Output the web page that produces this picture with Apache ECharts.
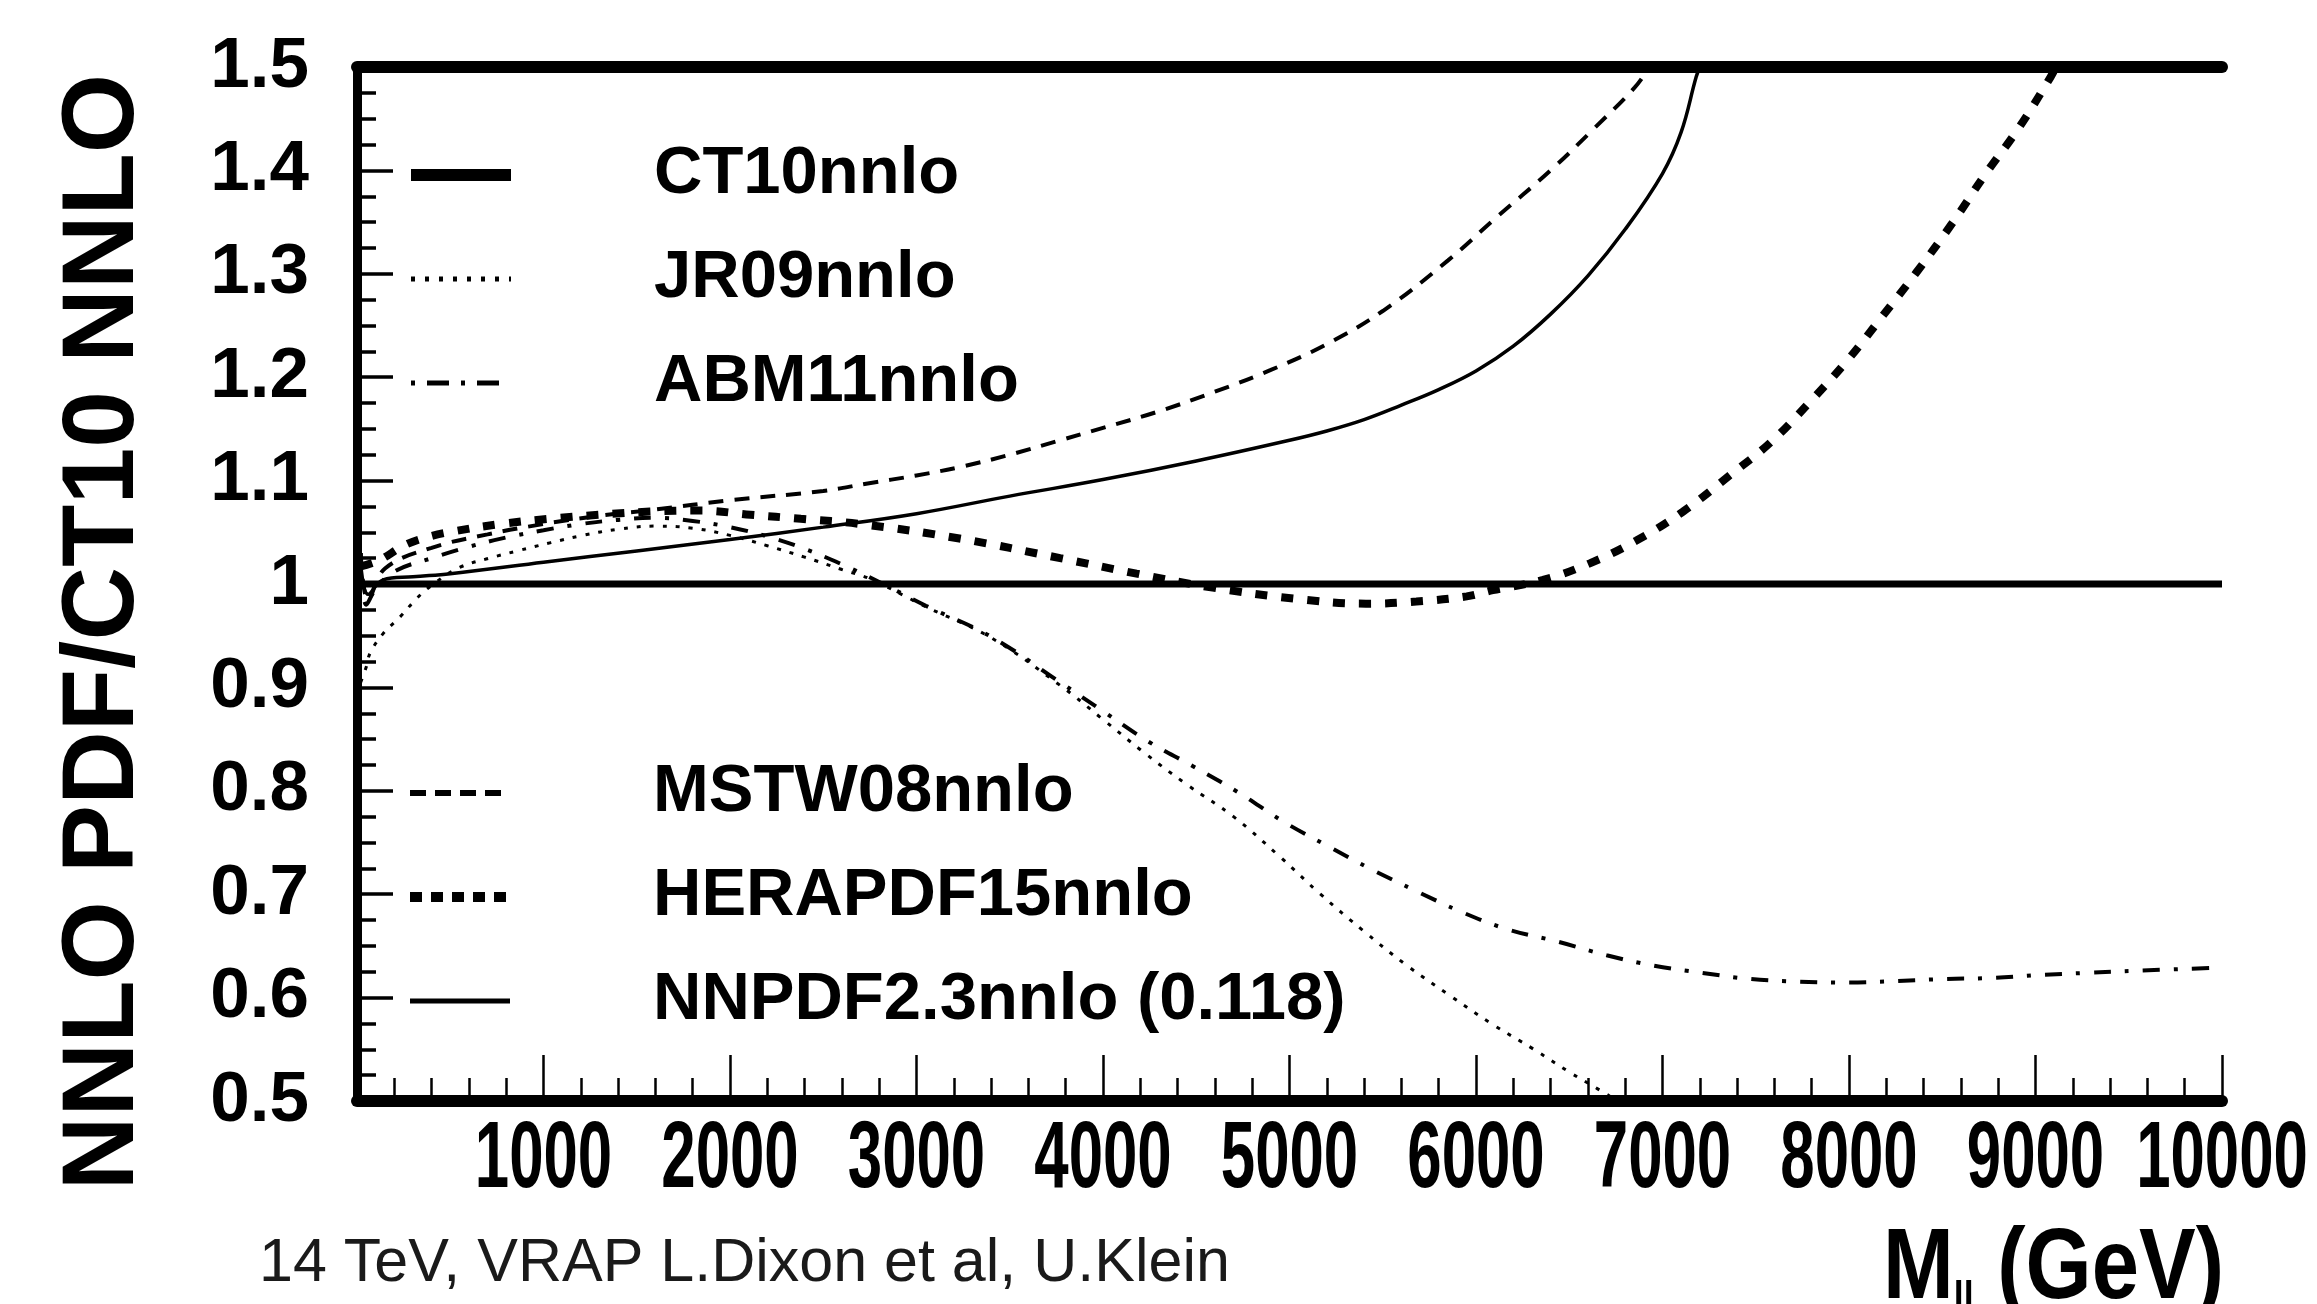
<!DOCTYPE html>
<html>
<head>
<meta charset="utf-8">
<title>NNLO PDF / CT10 NNLO</title>
<script src="https://cdn.jsdelivr.net/npm/echarts@6/dist/echarts.min.js"></script>
<style>
  html, body { margin: 0; padding: 0; background: #fff; }
  #chart { width: 2317px; height: 1304px; }
</style>
</head>
<body>
<div id="chart"></div>
<script>
// ratio curves, [M_ll in GeV, ratio to CT10]
const ct10 = [[0, 1], [10000, 1]];
const jr09 = [[20, 0.905], [50, 0.92], [70, 0.933], [140, 0.952], [230, 0.968], [320, 0.986], [410, 1.0], [550, 1.016], [710, 1.025], [860, 1.032], [1040, 1.04], [1210, 1.047], [1400, 1.053], [1600, 1.056], [1800, 1.054], [2000, 1.047], [2200, 1.037], [2400, 1.026], [2600, 1.014], [2750, 1.005], [3050, 0.978], [3400, 0.948], [3770, 0.902], [4000, 0.869], [4220, 0.837], [4450, 0.806], [4700, 0.775], [4950, 0.736], [5160, 0.701], [5400, 0.664], [5630, 0.631], [5860, 0.602], [6090, 0.574], [6310, 0.55], [6500, 0.528], [6650, 0.512], [6760, 0.5]];
const abm11 = [[20, 1.03], [50, 0.98], [100, 0.995], [200, 1.012], [400, 1.025], [600, 1.036], [800, 1.045], [1000, 1.052], [1200, 1.058], [1400, 1.062], [1600, 1.064], [1800, 1.061], [2000, 1.055], [2200, 1.046], [2400, 1.034], [2600, 1.019], [2800, 1.002], [3050, 0.979], [3400, 0.949], [3770, 0.905], [4000, 0.877], [4240, 0.848], [4480, 0.824], [4730, 0.798], [4960, 0.771], [5200, 0.747], [5440, 0.724], [5680, 0.703], [5920, 0.683], [6170, 0.666], [6440, 0.654], [6700, 0.641], [6950, 0.631], [7210, 0.624], [7470, 0.618], [7730, 0.6155], [7990, 0.6146], [8250, 0.616], [8510, 0.618], [8770, 0.619], [9030, 0.622], [9290, 0.624], [9540, 0.626], [10000, 0.629]];
const mstw08 = [[20, 1.03], [60, 0.985], [150, 1.015], [400, 1.035], [700, 1.048], [1000, 1.058], [1300, 1.066], [1600, 1.072], [2000, 1.081], [2500, 1.09], [2730, 1.097], [3000, 1.105], [3230, 1.113], [3500, 1.125], [3770, 1.139], [4000, 1.151], [4300, 1.167], [4600, 1.186], [4900, 1.207], [5200, 1.232], [5500, 1.264], [5850, 1.313], [6100, 1.353], [6400, 1.4], [6630, 1.44], [6850, 1.48], [6930, 1.5]];
const herapdf15 = [[20, 1.017], [120, 1.023], [250, 1.037], [370, 1.045], [520, 1.051], [770, 1.058], [1030, 1.063], [1300, 1.067], [1570, 1.07], [1840, 1.071], [2110, 1.067], [2380, 1.063], [2700, 1.058], [3230, 1.044], [3770, 1.025], [4180, 1.01], [4570, 0.997], [5020, 0.986], [5410, 0.981], [5680, 0.983], [5950, 0.988], [6090, 0.994], [6360, 1.004], [6610, 1.02], [6860, 1.042], [7110, 1.07], [7360, 1.105], [7580, 1.137], [7780, 1.174], [7990, 1.216], [8175, 1.258], [8360, 1.301], [8550, 1.348], [8730, 1.396], [8910, 1.441], [9080, 1.49], [9110, 1.5]];
const nnpdf23 = [[20, 1.02], [60, 0.99], [140, 1.004], [300, 1.007], [500, 1.01], [1000, 1.021], [1500, 1.032], [2000, 1.043], [2500, 1.055], [3000, 1.068], [3500, 1.085], [4000, 1.101], [4500, 1.119], [5000, 1.139], [5200, 1.148], [5400, 1.159], [5600, 1.173], [5800, 1.188], [6000, 1.206], [6200, 1.23], [6400, 1.261], [6600, 1.298], [6800, 1.343], [7000, 1.397], [7100, 1.437], [7180, 1.49], [7200, 1.5]];

const legendTop = ["CT10nnlo", "JR09nnlo", "ABM11nnlo"];
const legendBottom = ["MSTW08nnlo", "HERAPDF15nnlo", "NNPDF2.3nnlo (0.118)"];
const xTickLabels = [1000, 2000, 3000, 4000, 5000, 6000, 7000, 8000, 9000, 10000];

const sans = "'Liberation Sans', Arial, sans-serif";

var chart = echarts.init(document.getElementById("chart"), null, { renderer: "canvas" });

function curve(name, data, width, type) {
  return {
    name: name,
    type: "line",
    data: data,
    symbol: "none",
    smooth: 0.4,
    silent: true,
    lineStyle: { color: "#000", width: width, type: type },
  };
}

// shared look of the two legend blocks
function legendBlock(items, top) {
  return {
    data: items,
    orient: "vertical",
    left: 405,
    top: top,
    padding: 0,
    itemWidth: 100,
    itemHeight: 14,
    itemGap: 0,
    selectedMode: false,
    itemStyle: { color: "rgba(0,0,0,0)", borderColor: "rgba(0,0,0,0)", borderWidth: 0 },
    textStyle: {
      color: "#000",
      fontFamily: sans,
      fontWeight: "bold",
      fontSize: 67,
      lineHeight: 104,
      padding: [0, 0, 0, 138],
    },
  };
}

var option = {
  animation: false,
  backgroundColor: "#fff",
  grid: { left: 357, right: 95, top: 67, bottom: 203 },
  legend: [
    legendBlock([
      { name: legendTop[0], lineStyle: { width: 12, type: "solid" } },
      { name: legendTop[1], lineStyle: { width: 5, type: [4, 10] } },
      { name: legendTop[2], lineStyle: { width: 5, type: [4, 12, 22, 12] } },
    ], 123),
    legendBlock([
      { name: legendBottom[0], lineStyle: { width: 6, type: [16, 9] } },
      { name: legendBottom[1], lineStyle: { width: 10, type: [12, 9] } },
      { name: legendBottom[2], lineStyle: { width: 5, type: "solid" } },
    ], 741),
  ],
  xAxis: [
    {
      type: "value",
      min: 0,
      max: 10000,
      interval: 1000,
      position: "bottom",
      axisLine: { lineStyle: { color: "#000", width: 12 } },
      axisTick: { inside: true, length: 46, lineStyle: { color: "#000", width: 2.5 } },
      minorTick: { show: true, splitNumber: 5, length: 23, lineStyle: { color: "#000", width: 2.5 } },
      splitLine: { show: false },
      // tick labels are drawn below as narrow text
      axisLabel: { show: false },
    },
    {
      // top frame edge
      type: "value",
      min: 0,
      max: 10000,
      position: "top",
      axisLine: { lineStyle: { color: "#000", width: 12 } },
      axisTick: { show: false },
      axisLabel: { show: false },
      splitLine: { show: false },
    },
  ],
  yAxis: [
    {
      type: "value",
      min: 0.5,
      max: 1.5,
      interval: 0.1,
      position: "left",
      axisLine: { show: true, lineStyle: { color: "#000", width: 9 } },
      axisTick: { show: true, inside: true, length: 36, lineStyle: { color: "#000", width: 3.5 } },
      minorTick: { show: true, splitNumber: 4, length: 19, lineStyle: { color: "#000", width: 3.5 } },
      splitLine: { show: false },
      axisLabel: {
        margin: 48,
        color: "#000",
        fontFamily: sans,
        fontWeight: "bold",
        fontSize: 71,
        formatter: function (v) {
          return String(+v.toFixed(1));
        },
      },
    },
    {
      // right frame edge
      type: "value",
      min: 0.5,
      max: 1.5,
      position: "right",
      axisLine: { show: true, lineStyle: { color: "#000", width: 4 } },
      axisTick: { show: false },
      axisLabel: { show: false },
      splitLine: { show: false },
    },
  ],
  series: [
    curve(legendTop[0], ct10, 7, "solid"),
    curve(legendTop[1], jr09, 3, [4, 9]),
    curve(legendTop[2], abm11, 4, [17, 14, 4, 14]),
    curve(legendBottom[0], mstw08, 4, [15, 11]),
    curve(legendBottom[1], herapdf15, 8, [12, 14]),
    curve(legendBottom[2], nnpdf23, 3.5, "solid"),
  ],
  graphic: [
    {
      type: "text",
      x: 105,
      y: 632,
      rotation: Math.PI / 2,
      style: {
        text: "NNLO PDF/CT10 NNLO",
        fill: "#000",
        font: "bold 102px " + sans,
        align: "center",
        verticalAlign: "middle",
      },
    },
    {
      type: "text",
      x: 2224,
      y: 1270,
      scaleX: 0.85,
      style: {
        text: "{m|M}{s|ll}{m| (GeV)}",
        fill: "#000",
        align: "right",
        verticalAlign: "middle",
        rich: {
          m: { fontFamily: sans, fontWeight: "bold", fontSize: 100, fill: "#000" },
          s: { fontFamily: sans, fontWeight: "bold", fontSize: 42, fill: "#000", verticalAlign: "bottom" },
        },
      },
    },
    {
      type: "text",
      x: 259,
      y: 1264,
      style: {
        text: "14 TeV, VRAP L.Dixon et al, U.Klein",
        fill: "#1a1a1a",
        font: "61px " + sans,
        align: "left",
        verticalAlign: "middle",
      },
    },
  ],
};

chart.setOption(option);

// x tick labels: tall condensed digits, placed with the axis scale
var tickText = xTickLabels.map(function (v) {
  return {
    type: "text",
    x: chart.convertToPixel({ xAxisIndex: 0 }, v),
    y: 1161,
    scaleX: 0.65,
    style: {
      text: String(v),
      fill: "#000",
      font: "bold 95px " + sans,
      align: "center",
      verticalAlign: "middle",
    },
  };
});
chart.setOption({ graphic: option.graphic.concat(tickText) });
</script>
</body>
</html>
